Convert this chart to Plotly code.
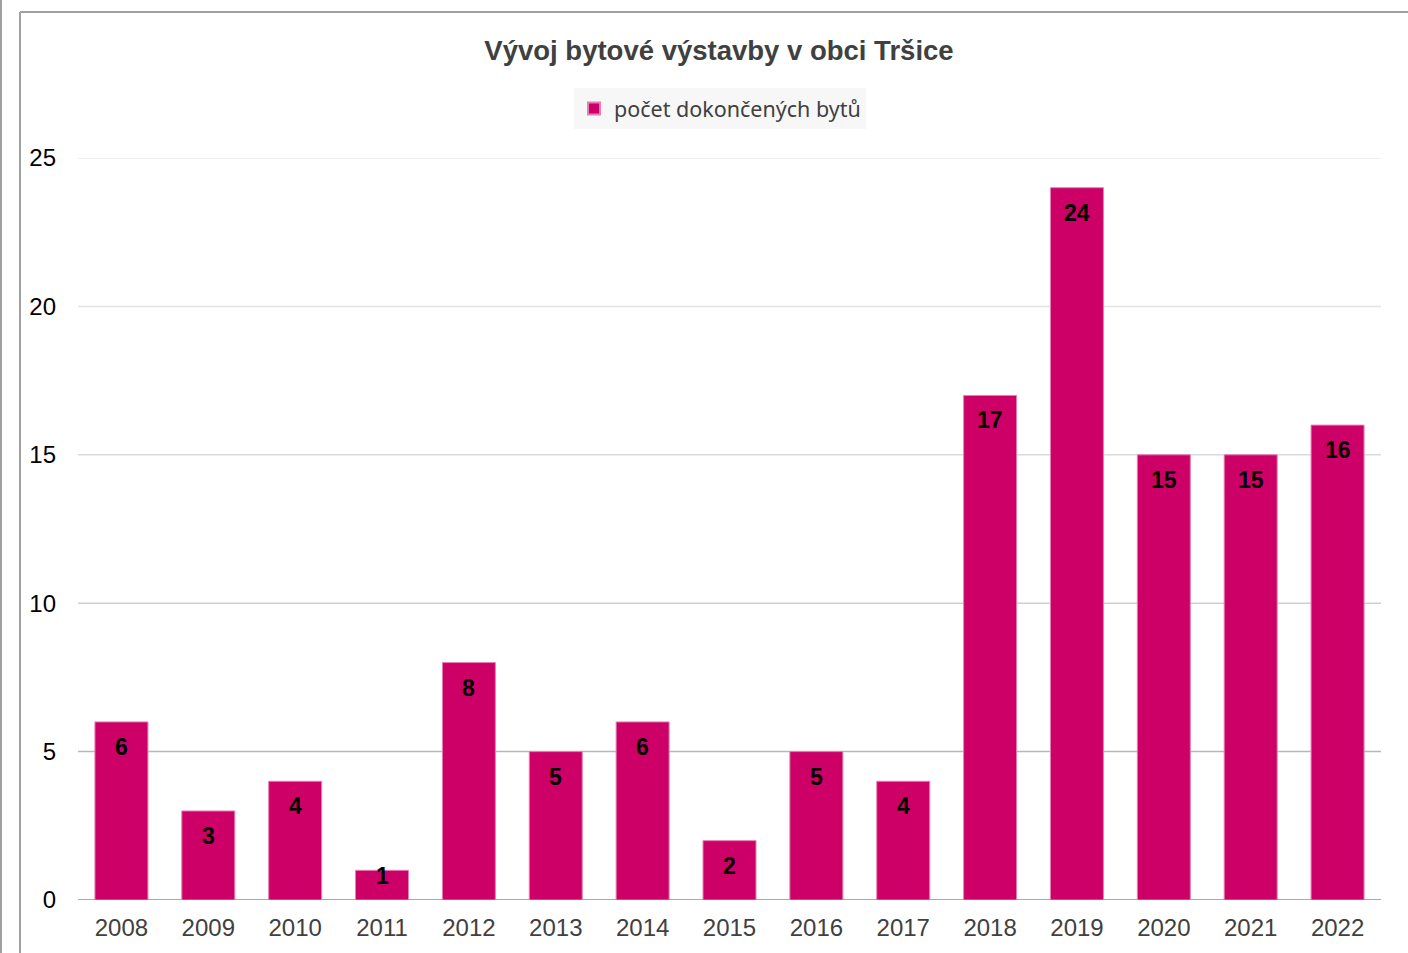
import plotly.graph_objects as go

# Completed dwellings per year
years = ["2008", "2009", "2010", "2011", "2012", "2013", "2014", "2015",
         "2016", "2017", "2018", "2019", "2020", "2021", "2022"]
completed = [6, 3, 4, 1, 8, 5, 6, 2, 5, 4, 17, 24, 15, 15, 16]

y_ticks = [0, 5, 10, 15, 20, 25]
grid_colors = ["#a9a9a9", "#b8b8b8", "#d0d0d0", "#dadada", "#e3e3e3", "#e8e8e8"]

W, H = 1408, 953
ML, MR, MT, MB = 78, 27, 158, 53
PW, PH = W - ML - MR, H - MT - MB

BAR = "#cc0066"

fig = go.Figure()
fig.add_trace(go.Bar(
    x=years, y=completed, name="počet dokončených bytů",
    marker=dict(color=BAR, line=dict(color="#e480b2", width=1)),
    hoverinfo="x+y",
))

# value labels just inside the top of each bar (x given as category index)
for i, v in enumerate(completed):
    fig.add_annotation(
        x=i, y=v, xref="x", yref="y", text=f"<b>{v}</b>", showarrow=False,
        yanchor="middle", yshift=-25 if v >= 2 else -6,
        font=dict(family="Liberation Sans, Arial", size=23, color="#000000"),
    )

shapes = []
# horizontal gridlines, darkening toward the baseline
for t, c in zip(y_ticks, grid_colors):
    shapes.append(dict(type="line", xref="paper", yref="y", x0=0, x1=1, y0=t, y1=t,
                       line=dict(color=c, width=2 if t == 0 else 1.5), layer="below"))

# chart frame
def px_x(p):
    return (p - ML) / PW

def px_y(p):
    return (H - MB - p) / PH

frame = dict(color="#a0a0a0", width=2)
shapes.append(dict(type="line", xref="paper", yref="paper",
                   x0=px_x(20), x1=px_x(W + 5), y0=px_y(12), y1=px_y(12), line=frame))
shapes.append(dict(type="line", xref="paper", yref="paper",
                   x0=px_x(20), x1=px_x(20), y0=px_y(12), y1=px_y(H + 5), line=frame))
shapes.append(dict(type="line", xref="paper", yref="paper",
                   x0=px_x(1), x1=px_x(1), y0=px_y(-5), y1=px_y(H + 5),
                   line=dict(color="#a0a0a0", width=2)))

fig.update_layout(
    width=W, height=H,
    margin=dict(l=ML, r=MR, t=MT, b=MB, pad=0, autoexpand=False),
    paper_bgcolor="#ffffff", plot_bgcolor="#ffffff",
    bargap=0.39,
    shapes=shapes,
    title=dict(
        text="<b>Vývoj bytové výstavby v obci Tršice</b>",
        xref="container", x=719 / W, xanchor="center",
        yref="container", y=1 - 50 / H, yanchor="middle",
        font=dict(family="Liberation Sans, Arial", size=27.5, color="#404040"),
    ),
    showlegend=True,
    legend=dict(
        orientation="h", x=px_x(720), xanchor="center",
        y=px_y(88), yanchor="top",
        bgcolor="#f7f7f7", borderwidth=0,
        font=dict(family="Noto Sans", size=21.5, color="#404040"),
        itemsizing="constant",
    ),
    xaxis=dict(
        type="category", categoryorder="array", categoryarray=years,
        range=[-0.5, len(years) - 0.5], autorange=False, automargin=False,
        showgrid=False, showline=False, zeroline=False,
        ticks="", ticklabelstandoff=11,
        tickfont=dict(family="Liberation Sans, Arial", size=24, color="#404040"),
    ),
    yaxis=dict(
        range=[0, 25], autorange=False, automargin=False, tickvals=y_ticks,
        showgrid=False, zeroline=False, showline=False, ticks="", ticklabelstandoff=21,
        tickfont=dict(family="Liberation Sans, Arial", size=24, color="#000000"),
    ),
)

fig.write_html("out.html")
